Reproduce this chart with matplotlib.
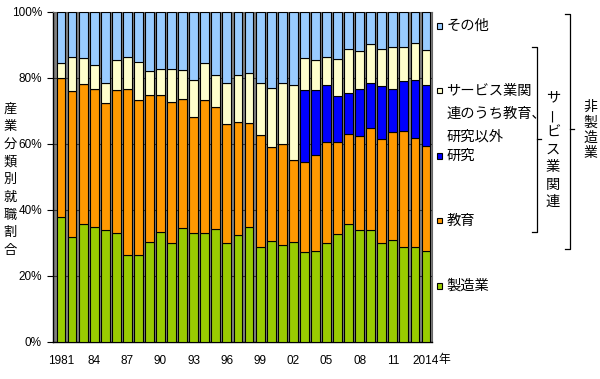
import matplotlib
matplotlib.use("Agg")
import matplotlib.pyplot as plt
import numpy as np

plt.rcParams["font.family"] = ["Noto Sans CJK JP", "DejaVu Sans"]

# 年度 1981-2014
years = list(range(1981, 2015))
tick_years = [1981, 1984, 1987, 1990, 1993, 1996, 1999, 2002, 2005, 2008, 2011, 2014]
tick_labels = ["1981", "84", "87", "90", "93", "96", "99", "02", "05", "08", "11", "2014"]

# 産業分類別就職割合 (%)
manufacturing = [38.0, 31.8, 35.9, 34.8, 33.9, 33.0, 26.3, 26.3, 30.2, 33.4,
                 30.0, 34.6, 33.1, 33.1, 34.1, 30.0, 32.5, 34.9, 28.8, 30.7,
                 29.3, 30.3, 27.3, 27.5, 30.1, 32.6, 35.8, 33.9, 33.8, 30.0,
                 30.8, 28.7, 28.9, 27.7]
education = [42.1, 44.4, 42.4, 41.8, 38.6, 43.3, 50.4, 47.1, 44.7, 41.5,
             42.8, 38.9, 35.0, 40.2, 37.0, 36.1, 34.3, 31.4, 33.8, 28.3,
             30.6, 24.9, 27.2, 29.1, 30.6, 28.1, 27.3, 28.6, 31.0, 31.6,
             32.8, 35.3, 32.9, 31.7]
research = [0, 0, 0, 0, 0, 0, 0, 0, 0, 0,
            0, 0, 0, 0, 0, 0, 0, 0, 0, 0,
            0, 0, 21.9, 19.8, 17.3, 13.7, 12.5, 14.3, 13.6, 15.9,
            13.1, 15.0, 17.5, 18.4]
service_other = [4.3, 10.3, 7.8, 7.3, 5.9, 9.2, 9.8, 11.6, 7.1, 7.8,
                 10.0, 8.9, 11.3, 11.1, 9.9, 12.3, 14.1, 15.2, 16.0, 18.0,
                 18.5, 22.6, 9.7, 9.1, 8.5, 11.4, 13.3, 11.3, 11.8, 11.4,
                 12.8, 10.4, 11.3, 10.7]
others = [15.6, 13.5, 13.9, 16.1, 21.6, 14.5, 13.5, 15.0, 18.0, 17.3,
          17.2, 17.6, 20.6, 15.6, 19.0, 21.6, 19.1, 18.5, 21.4, 23.0,
          21.6, 22.2, 13.9, 14.5, 13.5, 14.2, 11.1, 11.9, 9.8, 11.1,
          10.5, 10.6, 9.4, 11.5]

series = [
    ("製造業", manufacturing, "#99cc00"),
    ("教育", education, "#ff9900"),
    ("研究", research, "#0000ff"),
    ("サービス業関連のうち教育、研究以外", service_other, "#ffffcc"),
    ("その他", others, "#99ccff"),
]

W, H = 600, 379


def fx(px):
    return px / W


def fy(py):
    return 1 - py / H


fig = plt.figure(figsize=(6.0, 3.79), dpi=100)
ax = fig.add_axes([fx(53), fy(342), (432 - 53) / W, (342 - 12) / H])
ax.set_facecolor("#808080")

x = np.arange(len(years))
bottom = np.zeros(len(years))
for name, vals, color in series:
    vals = np.asarray(vals, dtype=float)
    ax.bar(x, vals, bottom=bottom, width=0.8, color=color,
           edgecolor="black", linewidth=0.8, zorder=3)
    bottom += vals

ax.set_xlim(-0.72, len(years) - 1 + 0.54)
ax.set_ylim(0, 100)
ax.set_yticks(np.arange(0, 101, 20))
ax.set_yticklabels([f"{v}%" for v in range(0, 101, 20)], family="Liberation Sans")
ax.yaxis.grid(True, color="#333333", linewidth=0.8, zorder=0)
ax.set_axisbelow(True)
ax.tick_params(axis="y", length=4, width=0.8, pad=4, labelsize=8.5)

ax.set_xticks([years.index(y) for y in tick_years])
ax.set_xticklabels(tick_labels, family="Liberation Sans")
ax.tick_params(axis="x", length=0, pad=9, labelsize=8.5)

for s in ("top", "right"):
    ax.spines[s].set_color("#666666")
for s in ("left", "bottom"):
    ax.spines[s].set_color("black")
    ax.spines[s].set_linewidth(1.0)

fig.text(fx(438), fy(360), "年", fontsize=8.5, va="center", ha="left")

# 縦書きの軸ラベル
ylab = "産業分類別就職割合"
for i, ch in enumerate(ylab):
    fig.text(fx(10), fy(109 + i * 17.7), ch, fontsize=9.5,
             ha="center", va="center")

# 凡例
legend_items = [
    ("#99ccff", ["その他"], 26),
    ("#ffffcc", ["サービス業関", "連のうち教育、", "研究以外"], 90.7),
    ("#0000ff", ["研究"], 156),
    ("#ff9900", ["教育"], 220.7),
    ("#99cc00", ["製造業"], 286),
]
for color, lines, y0 in legend_items:
    fig.patches.append(plt.Rectangle((fx(436.5), fy(y0 + 2.7)), 5.5 / W, 5.5 / H,
                                     transform=fig.transFigure,
                                     facecolor=color, edgecolor="black",
                                     linewidth=0.8))
    for j, line in enumerate(lines):
        fig.text(fx(446.5), fy(y0 + j * 22.7), line, fontsize=10.3,
                 ha="left", va="center")


def brace(xv, ytop, ybot, ymid, arm=5, tick=4):
    xs = [xv - arm, xv, xv, xv - arm]
    ys = [ytop, ytop, ybot, ybot]
    fig.add_artist(plt.Line2D([fx(v) for v in xs], [fy(v) for v in ys],
                              color="black", linewidth=0.9))
    fig.add_artist(plt.Line2D([fx(xv), fx(xv + tick)], [fy(ymid), fy(ymid)],
                              color="black", linewidth=0.9))


brace(536.5, 46.7, 231.5, 139.3)
brace(569.5, 14, 249.3, 129)

label1 = "サービス業関連"
for i, ch in enumerate(label1):
    fig.text(fx(553), fy(97.5 + i * 17.4), ch, fontsize=10.3,
             ha="center", va="center", rotation=90 if ch == "ー" else 0)

label2 = "非製造業"
for i, ch in enumerate(label2):
    fig.text(fx(590), fy(107 + i * 15.4), ch, fontsize=10,
             ha="center", va="center")

fig.savefig("out.png", dpi=100)
